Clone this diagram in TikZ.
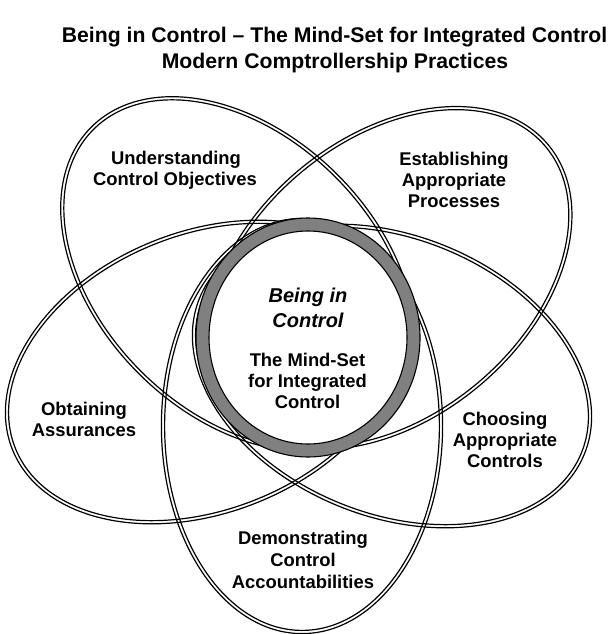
\documentclass[tikz,border=0pt]{standalone}
\usepackage{fontspec}
\setmainfont{Liberation Sans}
\definecolor{ringgray}{HTML}{808080}
% one petal = two concentric thin ellipses (a double outline)
% #1,#2 centre, #3 rotation, #4/#5 outer radii, #6/#7 inner radii
\newcommand\petal[7]{%
  \draw[petalline, rotate around={#3:(#1,#2)}] (#1,#2) ellipse [x radius=#4pt, y radius=#5pt];
  \draw[petalline, rotate around={#3:(#1,#2)}] (#1,#2) ellipse [x radius=#6pt, y radius=#7pt];}
\begin{document}
\begin{tikzpicture}[x=1pt,y=-1pt,
  petalline/.style={line width=1.2pt, draw=black},
  ringstyle/.style={draw=black, line width=1.1pt},
  lbl/.style={font=\fontsize{18.4}{21}\selectfont\bfseries, anchor=base, inner sep=0pt},
  ttl/.style={font=\fontsize{21.2}{25}\selectfont\bfseries, anchor=base, inner sep=0pt},
  core/.style={font=\fontsize{20}{24}\selectfont\bfseries\itshape, anchor=base, inner sep=0pt}]
\fill[white] (0,0) rectangle (613,634);
\useasboundingbox (0,0) rectangle (613,634);

% title
\node[ttl] (title1) at (334.5,43) {Being in Control – The Mind-Set for Integrated Control};
\node[ttl] (title2) at (335,69) {Modern Comptrollership Practices};

% the five petals
\petal{238}{274}{-45}{207.6}{140.6}{204.4}{137.4}% understanding
\petal{389}{278}{40}{207.6}{140.6}{204.4}{137.4}% establishing
\petal{205}{372}{22}{207.6}{140.6}{204.4}{137.4}% obtaining
\petal{392}{376}{-22}{207.6}{140.6}{204.4}{137.4}% choosing
\petal{302}{426}{90}{207.6}{140.6}{204.4}{137.4}% demonstrating

% central ring
\path[ringstyle, fill=ringgray] (308,337.5) ellipse [x radius=112pt, y radius=119.5pt];
\path[ringstyle, fill=white] (308,337.5) ellipse [x radius=99pt, y radius=106.5pt];

% centre text
\node[core] (c1) at (308,302) {Being in};
\node[core] (c2) at (308,327) {Control};
\node[lbl] (c3) at (307.5,366) {The Mind-Set};
\node[lbl] (c4) at (307.5,387) {for Integrated};
\node[lbl] (c5) at (307.5,408) {Control};

% petal labels
\node[lbl] (u1) at (176,164) {Understanding};
\node[lbl] (u2) at (175,185) {Control Objectives};
\node[lbl] (e1) at (454,165) {Establishing};
\node[lbl] (e2) at (454,186) {Appropriate};
\node[lbl] (e3) at (454,207) {Processes};
\node[lbl] (o1) at (84,415) {Obtaining};
\node[lbl] (o2) at (84,436) {Assurances};
\node[lbl] (h1) at (505,425) {Choosing};
\node[lbl] (h2) at (505,446) {Appropriate};
\node[lbl] (h3) at (505,467) {Controls};
\node[lbl] (d1) at (303,544) {Demonstrating};
\node[lbl] (d2) at (303,566) {Control};
\node[lbl] (d3) at (303,588) {Accountabilities};
\end{tikzpicture}
\end{document}
